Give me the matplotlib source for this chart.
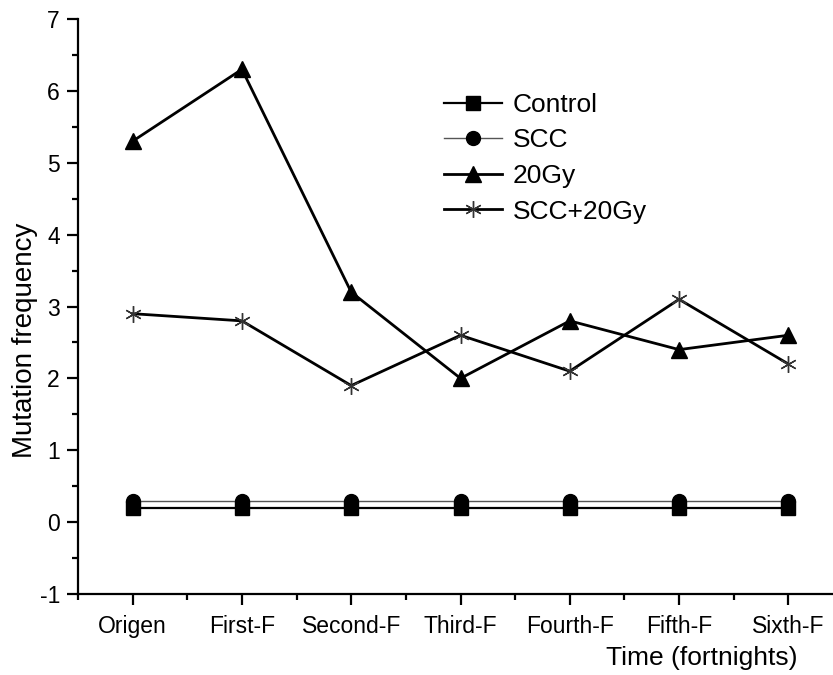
import matplotlib
matplotlib.use("Agg")
import matplotlib.pyplot as plt
from matplotlib.ticker import MultipleLocator

plt.rcParams['font.family'] = ['Liberation Sans', 'DejaVu Sans']
plt.rcParams['axes.unicode_minus'] = False

categories = ["Origen", "First-F", "Second-F", "Third-F", "Fourth-F", "Fifth-F", "Sixth-F"]
control = [0.2, 0.2, 0.2, 0.2, 0.2, 0.2, 0.2]
scc = [0.3, 0.3, 0.3, 0.3, 0.3, 0.3, 0.3]
gy20 = [5.3, 6.3, 3.2, 2.0, 2.8, 2.4, 2.6]
scc_gy20 = [2.9, 2.8, 1.9, 2.6, 2.1, 3.1, 2.2]

x = list(range(1, len(categories) + 1))

fig = plt.figure(figsize=(8.33, 6.75), dpi=100)
ax = fig.add_axes([78/833, 81/675, 765/833, 575/675])

ax.plot(x, control, color='black', lw=1.6, marker='s', ms=9.5, mfc='black', mec='black', label='Control', zorder=3)
ax.plot(x, scc, color='#555555', lw=1.0, marker='o', ms=10, mfc='black', mec='black', label='SCC', zorder=3)
ax.plot(x, gy20, color='black', lw=2.0, marker='^', ms=11.5, mfc='black', mec='black', label='20Gy', zorder=3)
ax.plot(x, scc_gy20, color='black', lw=2.0, marker=(6, 2, 0), ms=12, mec='#333333', mew=1.0, label='SCC+20Gy', zorder=3)

ax.set_xlim(0.5, 7.5)
ax.set_ylim(-1, 7)
ax.set_xticks(x)
ax.set_xticklabels(categories, fontsize=16.5)
ax.set_xticks([0.5 + i for i in range(8)], minor=True)
ax.set_yticks(range(-1, 8))
ax.yaxis.set_minor_locator(MultipleLocator(0.5))
ax.tick_params(axis='y', labelsize=16.5)

for s in ['top', 'right']:
    ax.spines[s].set_visible(False)
for s in ['left', 'bottom']:
    ax.spines[s].set_linewidth(1.6)

ax.tick_params(which='major', direction='out', length=8, width=1.6)
ax.tick_params(which='minor', direction='out', length=4, width=1.6)
ax.tick_params(axis='x', which='major', pad=7)
ax.tick_params(axis='y', which='major', pad=5)

fig.text(25/833, 1 - 340/675, 'Mutation frequency', fontsize=20, rotation=90, ha='center', va='center')
fig.text(798/833, 1 - 658/675, 'Time (fortnights)', fontsize=19, ha='right', va='center')

leg = ax.legend(loc='upper left', bbox_to_anchor=(0.465, 0.89), frameon=False, fontsize=19,
                handlelength=2.2, handletextpad=0.4, labelspacing=0.44, borderaxespad=0)

fig.savefig('out.png', dpi=100)
